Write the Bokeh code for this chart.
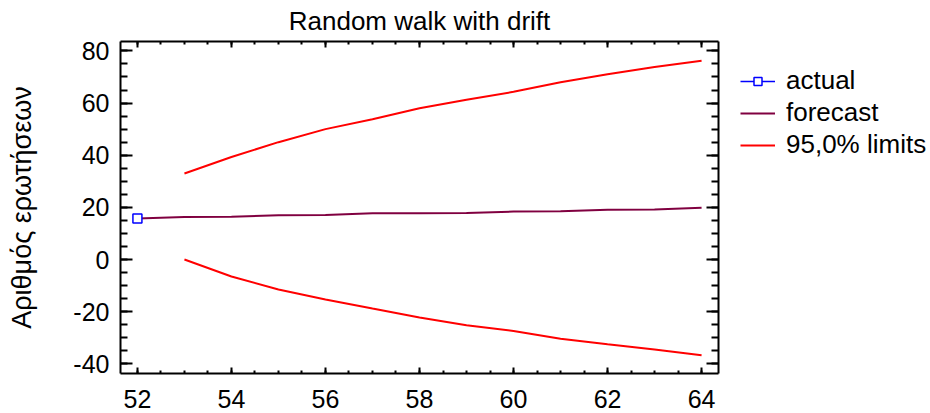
from bokeh.plotting import figure
from bokeh.layouts import row
from bokeh.models import LinearAxis, Range1d, Legend, LegendItem, FixedTicker, CustomLabelingPolicy
from bokeh.embed import file_html
from bokeh.resources import INLINE

# ---- data ----
actual_x = [52]
actual_y = [15.7]

forecast_x = [52, 53, 54, 55, 56, 57, 58, 59, 60, 61, 62, 63, 64]
forecast_y = [15.7, 16.3, 16.4, 17.0, 17.1, 17.7, 17.7, 17.8, 18.4, 18.5, 19.1, 19.2, 19.9]

limits_x = [53, 54, 55, 56, 57, 58, 59, 60, 61, 62, 63, 64]
upper_y = [33.0, 39.3, 45.0, 50.0, 53.8, 58.0, 61.3, 64.3, 68.0, 71.0, 73.8, 76.2]
lower_y = [0.0, -6.5, -11.5, -15.3, -18.8, -22.2, -25.2, -27.4, -30.4, -32.5, -34.5, -36.7]

x_major = [52, 54, 56, 58, 60, 62, 64]
x_minor = [51.5 + 0.5 * i for i in range(27)]
y_major = [-40, -20, 0, 20, 40, 60, 80]
y_minor = [-45 + 5 * i for i in range(27)]
y_label_overrides = {-40: "-40", -20: "-20"}

title_text = "Random walk with drift"
y_label = "Αριθμός ερωτήσεων"
labels = ["actual", "forecast", "95,0% limits"]

FONT = "Liberation Sans"
C_ACTUAL = "#0000FF"
C_FC = "#800040"
C_LIM = "#FF0000"

p = figure(width=740, height=413, frame_width=598, frame_height=332,
           x_range=Range1d(51.64, 64.36), y_range=Range1d(-43.7, 83.6),
           output_backend="svg", toolbar_location=None,
           min_border_left=120, min_border_top=41, min_border_right=22,
           min_border_bottom=40, x_axis_location=None, y_axis_location=None)

p.title.text = title_text
p.title.align = "center"
p.title.text_font = FONT
p.title.text_font_size = "26px"
p.title.text_font_style = "normal"
p.title.text_color = "black"
p.title.standoff = 4
p.grid.visible = False
p.outline_line_color = None
p.background_fill_color = "white"

hide_labels = CustomLabelingPolicy(code="return new Set()")


def style_axis(ax, tick_in, minor_in, show_labels):
    ax.axis_line_width = 2
    ax.axis_line_color = "black"
    ax.major_tick_in = tick_in
    ax.major_tick_out = 0
    ax.minor_tick_in = minor_in
    ax.minor_tick_out = 0
    ax.major_tick_line_width = 2
    ax.minor_tick_line_width = 2
    ax.major_label_text_font = FONT
    ax.major_label_text_color = "black"
    if show_labels:
        ax.major_label_text_font_size = "25px"
    else:
        ax.major_label_text_font_size = "1px"
        ax.major_label_policy = hide_labels
        ax.major_label_standoff = 0


xt = FixedTicker(ticks=x_major, minor_ticks=x_minor)
yt = FixedTicker(ticks=y_major, minor_ticks=y_minor)

left = LinearAxis(ticker=yt, axis_label=y_label)
style_axis(left, 12, 7, True)
left.major_label_overrides = y_label_overrides
left.major_label_standoff = 11
left.axis_label_text_font = FONT
left.axis_label_text_font_size = "27px"
left.axis_label_text_font_style = "normal"
left.axis_label_text_color = "black"
left.axis_label_standoff = 33
p.add_layout(left, "left")

bottom = LinearAxis(ticker=xt)
style_axis(bottom, 6, 3, True)
bottom.major_label_standoff = 16
p.add_layout(bottom, "below")

top = LinearAxis(ticker=xt)
style_axis(top, 6, 3, False)
p.add_layout(top, "above")

right = LinearAxis(ticker=yt)
style_axis(right, 12, 7, False)
p.add_layout(right, "right")

p.line(limits_x, upper_y, line_color=C_LIM, line_width=2)
p.line(limits_x, lower_y, line_color=C_LIM, line_width=2)
p.line(forecast_x, forecast_y, line_color=C_FC, line_width=2)
p.line(actual_x, actual_y, line_color=C_ACTUAL, line_width=1.5)
p.scatter(actual_x, actual_y, marker="square", size=9, line_color=C_ACTUAL,
          fill_color="white", line_width=1.5)

# legend panel placed to the right of the chart (its series fall outside its own ranges)
q = figure(width=190, height=413, x_range=Range1d(0, 1), y_range=Range1d(0, 1),
           output_backend="svg", toolbar_location=None,
           x_axis_location=None, y_axis_location=None, min_border=0)
q.outline_line_color = None
q.grid.visible = False

l_al = q.line(actual_x, actual_y, line_color=C_ACTUAL, line_width=1.5)
l_as = q.scatter(actual_x, actual_y, marker="square", size=9, line_color=C_ACTUAL,
                 fill_color="white", line_width=1.5)
l_fc = q.line(forecast_x, forecast_y, line_color=C_FC, line_width=2)
l_up = q.line(limits_x, upper_y, line_color=C_LIM, line_width=2)

legend = Legend(items=[LegendItem(label=labels[0], renderers=[l_al, l_as]),
                       LegendItem(label=labels[1], renderers=[l_fc]),
                       LegendItem(label=labels[2], renderers=[l_up])],
                location=(0, 213), margin=0, padding=0,
                border_line_color=None, background_fill_alpha=0,
                label_text_font=FONT, label_text_font_size="26px",
                label_text_color="black",
                glyph_width=35, glyph_height=20, label_standoff=11, spacing=1)
q.add_layout(legend, "center")

layout = row(p, q, spacing=0)
open("out.html", "w").write(file_html(layout, INLINE))
